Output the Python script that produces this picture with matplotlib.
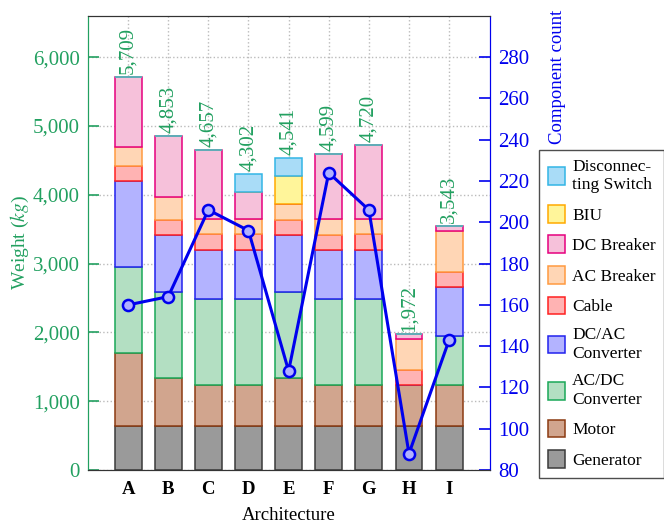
import matplotlib
matplotlib.use("Agg")
import matplotlib.pyplot as plt
from matplotlib.ticker import FuncFormatter

plt.rcParams["font.family"] = ["Liberation Serif", "DejaVu Serif"]
plt.rcParams["mathtext.fontset"] = "stix"

# data
archs = ["A", "B", "C", "D", "E", "F", "G", "H", "I"]
generator = [640, 640, 640, 640, 640, 640, 640, 640, 640]
motor = [1060, 700, 600, 600, 700, 600, 600, 600, 600]
acdc = [1250, 1250, 1250, 1250, 1250, 1250, 1250, 0, 710]
dcac = [1250, 830, 710, 710, 830, 710, 710, 0, 710]
cable = [212, 208, 224, 224, 208, 218, 224, 213, 212]
ac_breaker = [281, 334, 218, 218, 237, 229, 218, 446, 600]
dc_breaker = [1016, 891, 1015, 393, 0, 952, 1078, 73, 71]
biu = [0, 0, 0, 0, 411, 0, 0, 0, 0]
disc_switch = [0, 0, 0, 267, 265, 0, 0, 0, 0]
totals = [5709, 4853, 4657, 4302, 4541, 4599, 4720, 1972, 3543]
comp_count = [160, 164, 206, 196, 128, 224, 206, 88, 143]

layers = [
    ("Generator", generator, "#9a9a9a", "#3a3a3a"),
    ("Motor", motor, "#d1a58e", "#8b3a12"),
    ("AC/DC\nConverter", acdc, "#b3dfc2", "#1aa858"),
    ("DC/AC\nConverter", dcac, "#b3b3ff", "#2222ee"),
    ("Cable", cable, "#ffb3b3", "#ff2020"),
    ("AC Breaker", ac_breaker, "#ffd6b5", "#ff9a40"),
    ("DC Breaker", dc_breaker, "#f6c1da", "#e6007e"),
    ("BIU", biu, "#fff59a", "#ffaa00"),
    ("Disconnec-\nting Switch", disc_switch, "#a9dcf7", "#33b5e5"),
]

green = "#22a060"
blue = "#0000ee"

fig = plt.figure(figsize=(6.64, 5.27), dpi=100)
ax = fig.add_axes([0.1325, 0.108, 0.6055, 0.862])
ax2 = ax.twinx()

x = list(range(len(archs)))
bottom = [0] * len(archs)
handles = []
for name, vals, fc, ec in layers:
    h = ax.bar(x, vals, width=0.67, bottom=bottom, color=fc, edgecolor=ec,
               linewidth=1.1, label=name, zorder=2)
    handles.append(h)
    bottom = [b + v for b, v in zip(bottom, vals)]

# totals above bars
for xi, t in zip(x, totals):
    ax.text(xi, t + 40, f"{t:,}", rotation=90, ha="center", va="bottom",
            color=green, fontsize=15, zorder=3)

ax2.plot(x, comp_count, color=blue, linewidth=2.2, marker="o", markersize=8,
         markerfacecolor="#b0b0ff", markeredgecolor=blue, markeredgewidth=1.8,
         zorder=4)

ax.set_xlim(-1, 9.02)
ax.set_ylim(0, 6600)
ax2.set_ylim(80, 300)
ax.set_yticks(range(0, 6001, 1000))
ax.yaxis.set_major_formatter(FuncFormatter(lambda v, p: f"{int(v):,}"))
ax2.set_yticks(range(80, 281, 20))

ax.set_xticks(x)
ax.set_xticklabels(archs, fontweight="bold", fontsize=13.5)
ax.tick_params(axis="x", length=0, pad=8)
ax.tick_params(axis="y", direction="in", length=8, width=1.2, colors=green,
               labelsize=15, pad=6)
ax2.tick_params(axis="y", direction="in", length=8, width=1.2, colors=blue,
                labelsize=15, pad=6)

ax.grid(True, linestyle=":", color="#bbbbbb", linewidth=1)
ax.set_axisbelow(True)

ax.spines["left"].set_color(green)
ax2.spines["left"].set_color(green)
ax2.spines["right"].set_color(blue)
ax.spines["right"].set_color(blue)
for a in (ax, ax2):
    a.spines["top"].set_color("#333333")
    a.spines["bottom"].set_color("#333333")

ax.set_xlabel("Architecture", fontsize=13.5, labelpad=6)
ax.set_ylabel("Weight ($kg$)", fontsize=14, color=green, va="center")
ax.yaxis.set_label_coords(-0.168, 0.5)
ax2.set_ylabel("Component count", fontsize=13.5, color=blue, ha="right",
               va="center")
ax2.yaxis.set_label_coords(1.167, 1.013)

leg = fig.legend(handles[::-1], [l[0] for l in layers][::-1],
                 loc="upper left", bbox_to_anchor=(539 / 664, 1 - 150 / 527),
                 fontsize=12.5, frameon=True, fancybox=False, edgecolor="#222222",
                 handlelength=1.0, handleheight=1.2, handletextpad=0.4,
                 borderpad=0.5, labelspacing=0.68, borderaxespad=0)
leg.get_frame().set_linewidth(1.0)

fig.savefig("out.png", dpi=100)
